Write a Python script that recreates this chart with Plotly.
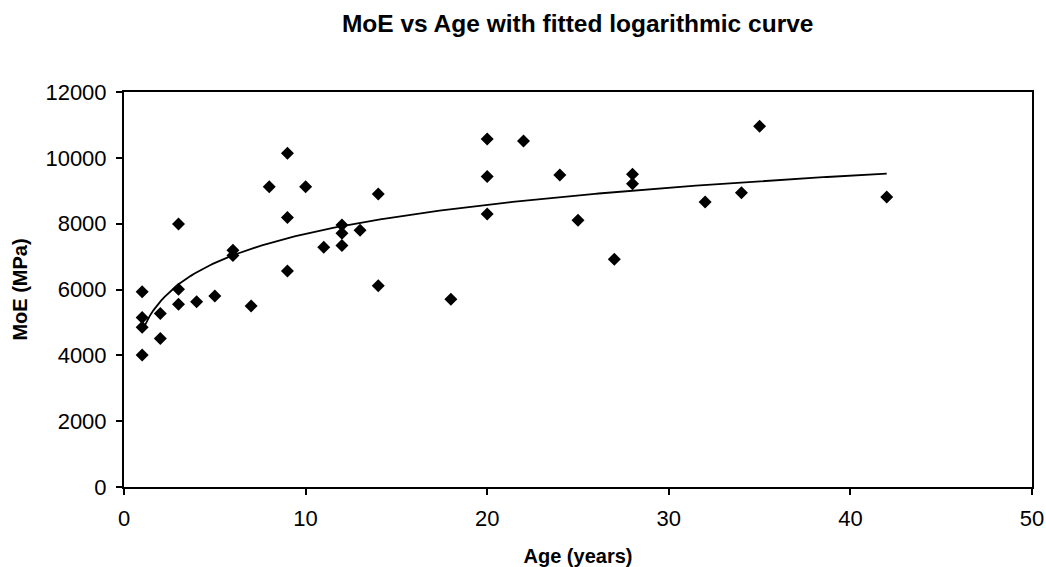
import numpy as np
import plotly.graph_objects as go

# Data
age = [1, 1, 1, 1, 2, 2, 3, 3, 3, 4, 5, 6, 6, 7, 8, 9, 9, 9, 10, 11,
       12, 12, 12, 13, 14, 14, 18, 20, 20, 20, 22, 24, 25, 27, 28, 28,
       32, 34, 35, 42]
moe = [5930, 5150, 4850, 4010, 5270, 4510, 7990, 6010, 5550, 5630, 5800,
       7190, 7030, 5500, 9120, 10140, 8190, 6560, 9120, 7280,
       7960, 7710, 7340, 7800, 8900, 6115, 5700, 10570, 9430, 8290,
       10510, 9480, 8100, 6920, 9500, 9215, 8660, 8940, 10960, 8810]

title_text = "MoE vs Age with fitted logarithmic curve"
x_title = "Age (years)"
y_title = "MoE (MPa)"

# Logarithmic least-squares fit (as the spreadsheet trendline)
x_arr = np.array(age, dtype=float)
y_arr = np.array(moe, dtype=float)
a, b = np.polyfit(np.log(x_arr), y_arr, 1)
x_fit = np.linspace(x_arr.min(), x_arr.max(), 200)
y_fit = a * np.log(x_fit) + b

FONT = "Liberation Sans, Arial, sans-serif"

fig = go.Figure()
fig.add_trace(go.Scatter(
    x=age, y=moe, mode="markers",
    marker=dict(symbol="diamond", size=10, color="black",
                line=dict(width=0)),
    showlegend=False, hoverinfo="x+y"))
fig.add_trace(go.Scatter(
    x=x_fit, y=y_fit, mode="lines",
    line=dict(color="black", width=1.8),
    showlegend=False, hoverinfo="skip"))

axis_common = dict(
    showgrid=False, zeroline=False, automargin=False,
    showline=True, linecolor="black", linewidth=2, mirror=True,
    ticks="outside", ticklen=6, tickwidth=1.5, tickcolor="black",
    tickformat="d",
    tickfont=dict(family=FONT, size=22, color="black"),
)

fig.update_xaxes(range=[0, 50], tick0=0, dtick=10,
                 ticklabelstandoff=5,
                 title=dict(text="<b>" + x_title + "</b>", standoff=20,
                            font=dict(family=FONT, size=20, color="black")),
                 **axis_common)
fig.update_yaxes(range=[0, 12000], tick0=0, dtick=2000,
                 ticklabelstandoff=5,
                 title=dict(text="<b>" + y_title + "</b>", standoff=12,
                            font=dict(family=FONT, size=20, color="black")),
                 **axis_common)

fig.update_layout(
    width=1046, height=567,
    margin=dict(l=124, r=14, t=92, b=80),
    paper_bgcolor="white", plot_bgcolor="white",
    title=dict(text="<b>" + title_text + "</b>", x=0.5523, xanchor="center",
               y=0.958, yanchor="middle",
               font=dict(family=FONT, size=24.5, color="black")),
)

fig.write_html("out.html")
